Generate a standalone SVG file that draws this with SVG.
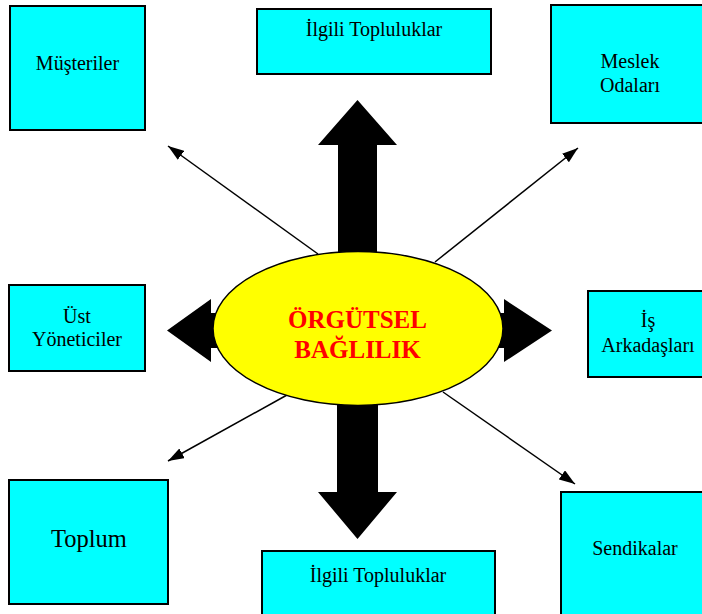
<svg xmlns="http://www.w3.org/2000/svg" width="702" height="614" viewBox="0 0 702 614">
  <style>
    .box { fill: #00ffff; stroke: #000; stroke-width: 2; }
    .lbl { font-family: "Liberation Serif", "Times New Roman", serif; font-size: 20px; fill: #000; text-anchor: middle; }
    .big { font-size: 24.5px; }
    .core { font-family: "Liberation Serif", "Times New Roman", serif; font-size: 25px; font-weight: bold; fill: #ff0000; text-anchor: middle; }
    .thin { stroke: #000; stroke-width: 1.5; fill: none; marker-end: url(#head); }
    .fat { fill: #000; stroke: none; }
  </style>
  <defs>
    <marker id="head" markerUnits="userSpaceOnUse" markerWidth="17" markerHeight="12" refX="16" refY="5.5" orient="auto">
      <path d="M0,0 L16,5.5 L0,11 z" fill="#000"/>
    </marker>
  </defs>

  <!-- connectors: block arrows and thin arrows radiating from the centre -->
  <g id="connectors">
    <polygon class="fat" points="357.5,100 397,145 377,145 377,330 338,330 338,145 318,145"/>
    <polygon class="fat" points="357.5,539 397,492 378,492 378,330 337,330 337,492 318,492"/>
    <polygon class="fat" points="167,330.5 211,299 211,313 358,313 358,348 211,348 211,362"/>
    <polygon class="fat" points="552,330.5 504,299 504,313 358,313 358,348 504,348 504,362"/>
    <line class="thin" x1="318" y1="254" x2="168" y2="146"/>
    <line class="thin" x1="435" y1="262" x2="578" y2="148"/>
    <line class="thin" x1="287" y1="395" x2="168" y2="461"/>
    <line class="thin" x1="443" y1="392" x2="575" y2="484"/>
  </g>

  <g id="orgutsel-baglilik">
    <ellipse cx="358" cy="328.5" rx="145" ry="77" fill="#ffff00" stroke="#000" stroke-width="1.5"/>
    <text class="core" x="357.5" y="328">ÖRGÜTSEL</text>
    <text class="core" x="357.5" y="358">BAĞLILIK</text>
  </g>

  <g id="musteriler">
    <rect class="box" x="10" y="6" width="135" height="124"/>
    <text class="lbl" x="77.5" y="70">Müşteriler</text>
  </g>

  <g id="ilgili-topluluklar-ust">
    <rect class="box" x="257" y="9" width="234" height="65"/>
    <text class="lbl" x="374" y="36">İlgili Topluluklar</text>
  </g>

  <g id="meslek-odalari">
    <rect class="box" x="551" y="5" width="155" height="118"/>
    <text class="lbl" x="630" y="68">Meslek</text>
    <text class="lbl" x="630" y="92">Odaları</text>
  </g>

  <g id="ust-yoneticiler">
    <rect class="box" x="9" y="285" width="136" height="86"/>
    <text class="lbl" x="77" y="323">Üst</text>
    <text class="lbl" x="77" y="346">Yöneticiler</text>
  </g>

  <g id="is-arkadaslari">
    <rect class="box" x="588" y="291" width="120" height="86"/>
    <text class="lbl" x="648" y="327">İş</text>
    <text class="lbl" x="648" y="352">Arkadaşları</text>
  </g>

  <g id="toplum">
    <rect class="box" x="9" y="480" width="159" height="124"/>
    <text class="lbl big" x="89" y="547">Toplum</text>
  </g>

  <g id="ilgili-topluluklar-alt">
    <rect class="box" x="262" y="551" width="233" height="70"/>
    <text class="lbl" x="378" y="582">İlgili Topluluklar</text>
  </g>

  <g id="sendikalar">
    <rect class="box" x="561" y="492" width="150" height="130"/>
    <text class="lbl" x="635" y="555">Sendikalar</text>
  </g>
</svg>
